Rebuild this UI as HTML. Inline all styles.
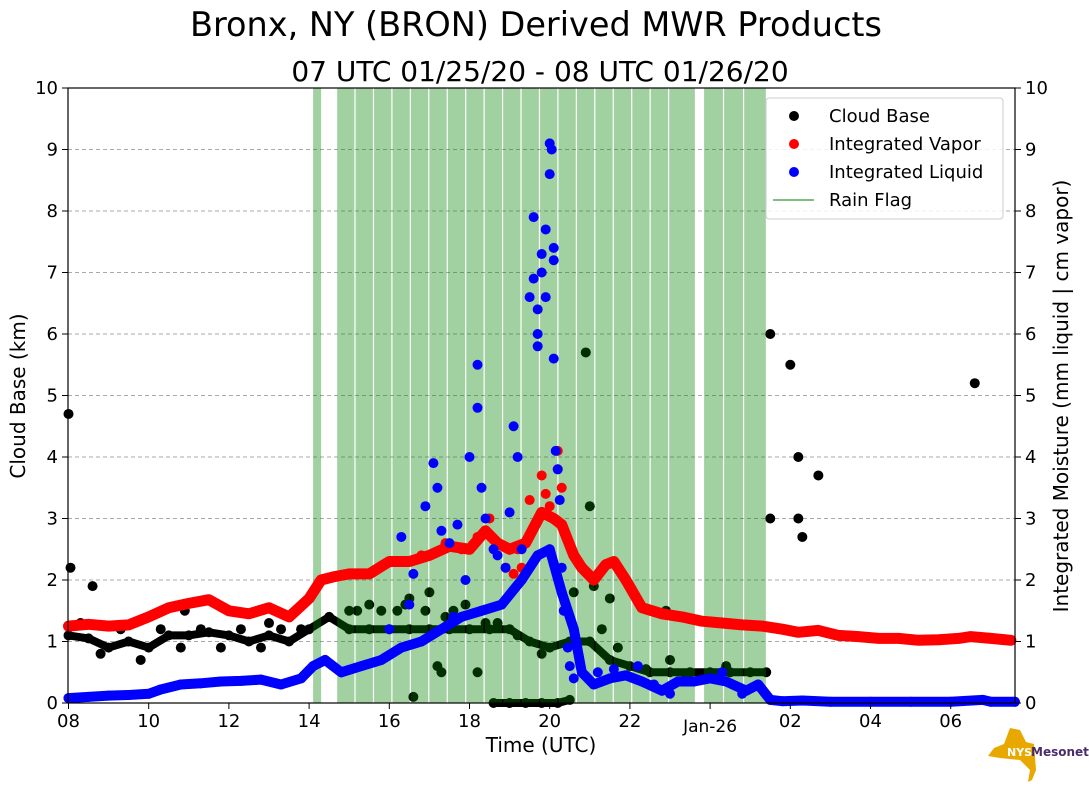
<!DOCTYPE html>
<html><head><meta charset="utf-8">
<style>
body{margin:0;background:#fff;}
svg text{font-family:"DejaVu Sans","Liberation Sans",sans-serif;fill:#000;}
</style></head>
<body>
<svg id="chart" width="1089" height="804" viewBox="0 0 1089 804" xmlns="http://www.w3.org/2000/svg">
<text x="536" y="36" font-size="33.5" text-anchor="middle">Bronx, NY (BRON) Derived MWR Products</text>
<text x="540" y="81" font-size="28" text-anchor="middle">07 UTC 01/25/20 - 08 UTC 01/26/20</text>
<g id="grid"></g>
<g id="cloud"></g>
<g id="rain"></g>
<g id="vapor"></g>
<g id="liquid"></g>
<g id="axes"></g>
<rect x="68" y="88" width="947" height="615" fill="none" stroke="#000" stroke-width="1.2"/>
<text x="541" y="752" font-size="20" text-anchor="middle">Time (UTC)</text>
<text transform="translate(25,396) rotate(-90)" font-size="20" text-anchor="middle">Cloud Base (km)</text>
<text transform="translate(1068,396) rotate(-90)" font-size="20" text-anchor="middle">Integrated Moisture (mm liquid | cm vapor)</text>
<g>
<rect x="766" y="98" width="237" height="121" rx="3" fill="#fff" fill-opacity="0.85" stroke="#ccc"/>
<circle cx="794" cy="116" r="5" fill="#000"/><text x="829" y="122" font-size="18">Cloud Base</text>
<circle cx="794" cy="144" r="5" fill="#f00"/><text x="829" y="150" font-size="18">Integrated Vapor</text>
<circle cx="794" cy="172" r="5" fill="#00f"/><text x="829" y="178" font-size="18">Integrated Liquid</text>
<line x1="773" y1="200" x2="814" y2="200" stroke="#7fbf7f" stroke-width="2"/><text x="829" y="206" font-size="18">Rain Flag</text>
</g>
<g>
<path d="M1010 728 L1020 730 L1026 742 L1034 744 L1036 770 L1032 780 L1028 782 L1030 770 L1020 760 L1000 758 L988 756 L994 748 L1004 744 Z" fill="#e8a800"/>
<text x="1007" y="756" font-size="11" font-weight="bold" style="fill:#fff">NYS</text>
<text x="1031" y="756" font-size="12" font-weight="bold" style="fill:#4b2c6b">Mesonet</text>
</g>
</svg>
<script>
// ---- data ----
const vaporT=[8,8.5,9,9.5,10,10.5,11,11.5,12,12.5,13,13.5,14,14.3,14.6,15,15.5,16,16.5,17,17.5,18,18.4,18.7,19,19.4,19.8,20.1,20.3,20.6,20.8,21.1,21.4,21.6,21.9,22.3,22.8,23.3,23.8,24.3,24.8,25.3,25.8,26.2,26.7,27.2,27.7,28.2,28.7,29.2,29.7,30.2,30.5,31,31.5];
const vaporV=[1.25,1.28,1.25,1.27,1.4,1.55,1.62,1.68,1.5,1.45,1.55,1.4,1.7,2.0,2.05,2.1,2.1,2.3,2.3,2.4,2.55,2.5,2.8,2.6,2.5,2.6,3.1,3.0,2.9,2.4,2.2,2.0,2.25,2.3,2.0,1.55,1.45,1.4,1.33,1.3,1.27,1.25,1.2,1.15,1.18,1.1,1.08,1.05,1.05,1.02,1.03,1.05,1.08,1.05,1.02];
const vaporXT=[17.8,18.2,18.5,19.5,19.8,19.9,20.0,20.2,20.2,20.3,16.8,17.4,18.9,19.2,19.1,19.3];
const vaporXV=[2.5,2.7,3.0,3.3,3.7,3.4,3.2,4.1,3.8,3.5,2.4,2.6,2.2,2.5,2.1,2.2];
const liqT=[8,8.5,9,9.5,10,10.3,10.8,11.3,11.8,12.3,12.8,13.3,13.8,14.1,14.4,14.8,15.3,15.8,16.3,16.8,17.3,17.8,18.3,18.8,19.3,19.7,20.0,20.3,20.6,20.8,21.1,21.5,21.9,22.3,22.8,23.2,23.6,24.0,24.4,24.9,25.2,25.5,25.8,26.3,27,28,29,30,30.8,31,31.6];
const liqV=[0.08,0.1,0.12,0.13,0.15,0.22,0.3,0.32,0.35,0.36,0.38,0.3,0.4,0.6,0.7,0.5,0.6,0.7,0.9,1.0,1.2,1.4,1.5,1.6,2.0,2.4,2.5,1.8,1.2,0.5,0.3,0.4,0.45,0.35,0.2,0.35,0.35,0.4,0.35,0.2,0.3,0.05,0.03,0.04,0.02,0.02,0.02,0.02,0.05,0.02,0.02];
const liqXT=[16.3,16.9,17.1,17.2,17.3,17.7,18.0,18.2,18.2,18.3,18.4,18.6,19.0,19.1,19.2,19.5,19.6,19.6,19.7,19.7,19.7,19.8,19.8,19.9,19.9,20.0,20.0,20.05,20.1,20.1,20.1,20.15,20.2,20.25,20.3,20.35,20.45,20.5,20.6,16.6,17.5,17.9,18.7,18.9,19.3,16.0,16.5,17.6,21.2,21.6,22.2,22.6,23.0,24.3,24.8];
const liqXV=[2.7,3.2,3.9,3.5,2.8,2.9,4.0,5.5,4.8,3.5,3.0,2.5,3.1,4.5,4.0,6.6,6.9,7.9,6.0,5.8,6.4,7.3,7.0,7.7,6.6,8.6,9.1,9.0,7.4,7.2,5.6,4.1,3.8,3.3,2.2,1.5,0.9,0.6,0.4,2.1,2.6,2.0,2.4,2.2,2.5,1.2,1.6,1.4,0.5,0.55,0.6,0.3,0.15,0.5,0.15];
const cloudT=[8,8.5,9,9.5,10,10.5,11,11.5,12,12.5,13,13.5,14,14.5,15,15.5,16,16.5,17,17.5,18,18.5,19,19.5,20,20.5,21,21.5,22,22.5,23,23.5,24,24.5,25,25.4];
const cloudV=[1.1,1.05,0.9,1.0,0.9,1.1,1.1,1.15,1.1,1.0,1.1,1.0,1.2,1.4,1.2,1.2,1.2,1.2,1.2,1.2,1.2,1.2,1.2,1.0,0.9,1.0,1.0,0.7,0.6,0.5,0.5,0.5,0.5,0.5,0.5,0.5];
const cloudLowT=[18.6,19.0,19.4,19.8,20.2,20.5];
const cloudLowV=[0,0,0,0,0,0.05];
const cloudXT=[8,8.05,8.6,10.9,13.0,15.0,15.5,16.2,16.5,17.0,17.3,17.6,18.2,18.7,20.6,20.9,21.0,21.1,21.5,22.9,25.5,25.5,26.0,26.2,26.2,26.3,26.7,30.6,16.6,17.2,19.8,23.0,8.3,8.8,9.3,9.8,10.3,10.8,11.3,11.8,12.3,12.8,13.3,13.8,15.2,15.8,16.4,16.9,17.4,17.9,18.4,19.2,21.3,21.7,22.4,23.4,24.4];
const cloudXV=[4.7,2.2,1.9,1.5,1.3,1.5,1.6,1.5,1.7,1.8,0.5,1.5,0.5,1.3,1.8,5.7,3.2,1.9,1.7,1.5,6.0,3.0,5.5,4.0,3.0,2.7,3.7,5.2,0.1,0.6,0.8,0.7,1.3,0.8,1.2,0.7,1.2,0.9,1.2,0.9,1.2,0.9,1.2,1.2,1.5,1.5,1.6,1.5,1.4,1.6,1.3,1.1,1.2,0.9,0.55,0.45,0.6];
const rainStart=[14.1,14.7,15.16,15.62,16.08,16.54,17.0,17.46,17.92,18.38,18.84,19.3,19.76,20.22,20.68,21.14,21.6,22.06,22.52,22.98,23.85,24.35,24.85];
const rainEnd=[14.3,15.13,15.59,16.05,16.51,16.97,17.43,17.89,18.35,18.81,19.27,19.73,20.19,20.65,21.11,21.57,22.03,22.49,22.95,23.62,24.32,24.82,25.39];
const xTickHours=[8,10,12,14,16,18,20,22,24,26,28,30];
const xTickLabels=["08","10","12","14","16","18","20","22","Jan-26","02","04","06"];
const yTicks=[0,1,2,3,4,5,6,7,8,9,10];
// ---- axes ----
const X=h=>68.5+(h-8)*40.1;
const Y=v=>703-v*61.5;
const NS="http://www.w3.org/2000/svg";
function mk(tag,parent,attrs){const e=document.createElementNS(NS,tag);for(const k in attrs)e.setAttribute(k,attrs[k]);document.getElementById(parent).appendChild(e);return e;}
yTicks.forEach(v=>{
  if(v>0&&v<10){const g=mk('line','grid',{x1:68,x2:1015,y1:Y(v),y2:Y(v),stroke:'#aaa','stroke-dasharray':'4,3','stroke-width':1});
  
  }
  ['L','R'].forEach(s=>{
    const xx=s==='L'?68:1015;
    const t=mk('line','axes',{x1:xx,x2:s==='L'?62:1021,y1:Y(v),y2:Y(v),stroke:'#000'});
    
    
    const l=mk('text','axes',{x:s==='L'?58:1025,y:Y(v)+6,'font-size':18,'text-anchor':s==='L'?'end':'start'});
    l.textContent=v;
    
    
  });
});
xTickHours.forEach((h,i)=>{
  const t=mk('line','axes',{x1:X(h),x2:X(h),y1:703,y2:709,stroke:'#000'});
  
  
  const l=mk('text','axes',{x:X(h),y:h===24?732:727,'font-size':h===24?17:18,'text-anchor':'middle'});
  l.textContent=xTickLabels[i];
  
  
});
function series(parent,T,V,color,name,thick){
  let d='';T.forEach((t,i)=>{d+=(i?'L':'M')+X(t).toFixed(1)+' '+Y(V[i]).toFixed(1);});
  if(thick){const p=mk('path',parent,{d:d,fill:'none',stroke:color,'stroke-width':thick,'stroke-linejoin':'round','stroke-linecap':'round'});
  
  }
  T.forEach((t,i)=>{const c=mk('circle',parent,{cx:X(t),cy:Y(V[i]),r:5,fill:color});
  
  });
}
series('cloud',cloudT,cloudV,'#000','cloud-base',8);
series('cloud',cloudLowT,cloudLowV,'#000','cloud-base-low',8);
series('cloud',cloudXT,cloudXV,'#000','cloud-base-extra',0);
rainStart.forEach((s,i)=>{
  const r=mk('rect','rain',{x:X(s),y:88,width:X(rainEnd[i])-X(s),height:615,fill:'#008000','fill-opacity':0.37});
  
  
});
series('vapor',vaporT,vaporV,'#f00','integrated-vapor',11);
series('vapor',vaporXT,vaporXV,'#f00','integrated-vapor-extra',0);
series('liquid',liqT,liqV,'#00f','integrated-liquid',10);
series('liquid',liqXT,liqXV,'#00f','integrated-liquid-extra',0);
</script>
</body></html>
